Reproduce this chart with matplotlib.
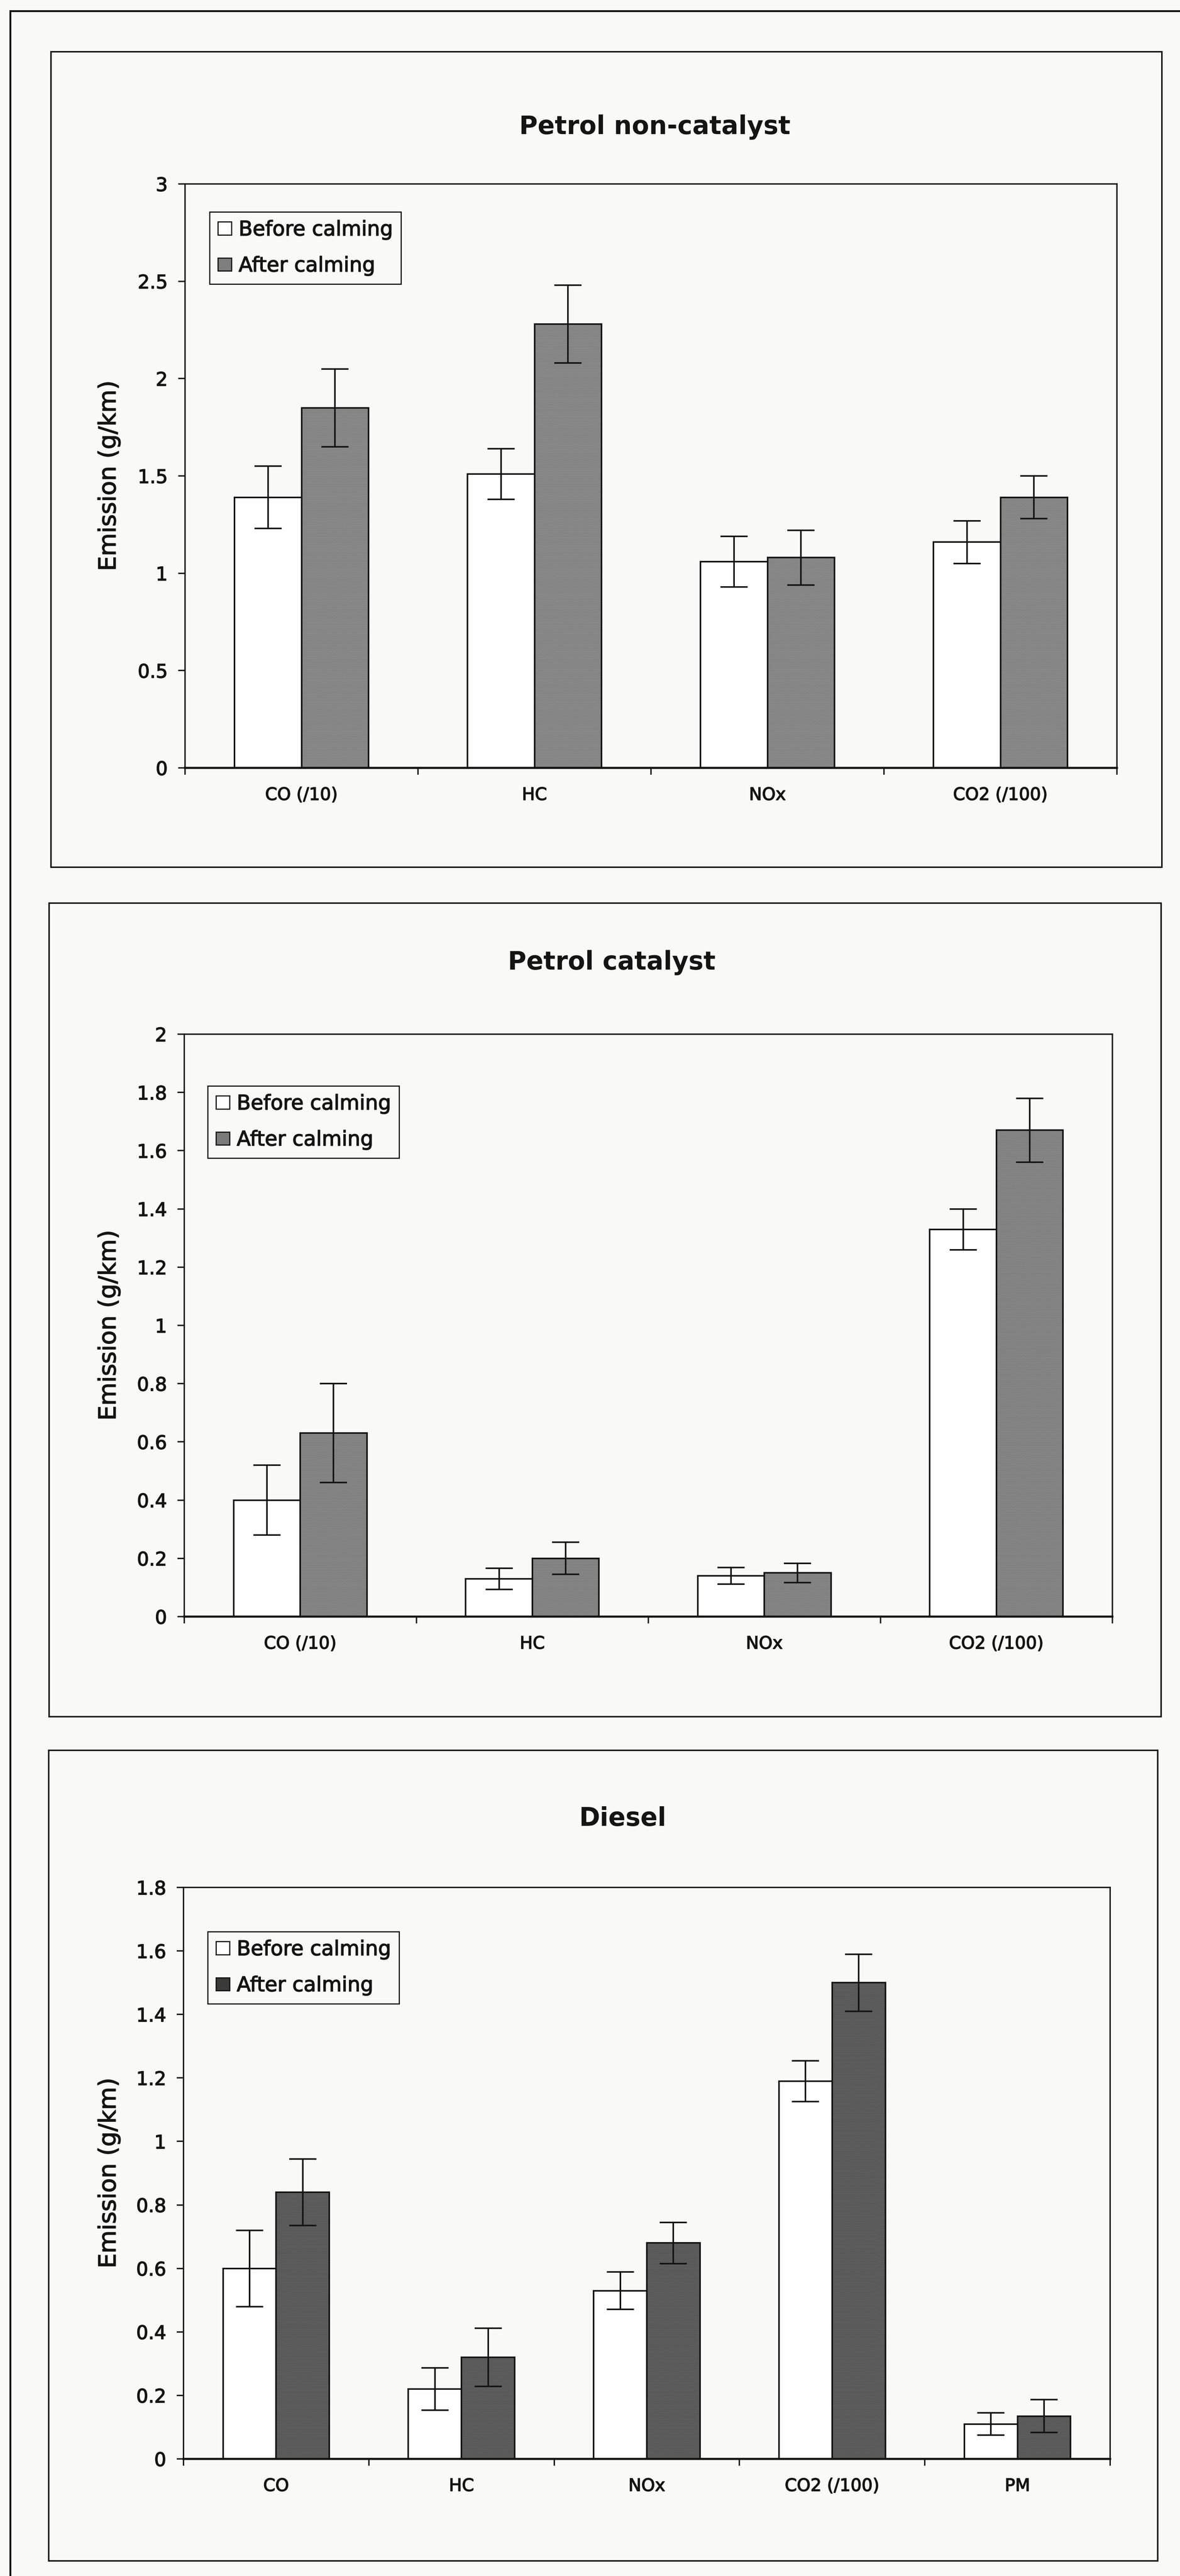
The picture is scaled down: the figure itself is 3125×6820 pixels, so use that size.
import matplotlib
matplotlib.use("Agg")
import matplotlib.pyplot as plt
import matplotlib.patheffects as pe
from matplotlib.patches import Rectangle, Patch
from matplotlib.lines import Line2D
from matplotlib.ticker import FixedLocator, FuncFormatter

# ---------------- data ----------------
# Petrol non-catalyst
pnc_categories = ["CO (/10)", "HC", "NOx", "CO2 (/100)"]
pnc_before = [1.39, 1.51, 1.06, 1.16]
pnc_before_err = [0.16, 0.13, 0.13, 0.11]
pnc_after = [1.85, 2.28, 1.08, 1.39]
pnc_after_err = [0.20, 0.20, 0.14, 0.11]
pnc_yticks = [0, 0.5, 1, 1.5, 2, 2.5, 3]

# Petrol catalyst
pc_categories = ["CO (/10)", "HC", "NOx", "CO2 (/100)"]
pc_before = [0.40, 0.13, 0.14, 1.33]
pc_before_err = [0.12, 0.036, 0.028, 0.07]
pc_after = [0.63, 0.20, 0.15, 1.67]
pc_after_err = [0.17, 0.055, 0.033, 0.11]
pc_yticks = [0, 0.2, 0.4, 0.6, 0.8, 1, 1.2, 1.4, 1.6, 1.8, 2]

# Diesel
d_categories = ["CO", "HC", "NOx", "CO2 (/100)", "PM"]
d_before = [0.60, 0.22, 0.53, 1.19, 0.11]
d_before_err = [0.12, 0.067, 0.059, 0.064, 0.035]
d_after = [0.84, 0.32, 0.68, 1.50, 0.135]
d_after_err = [0.105, 0.092, 0.065, 0.09, 0.052]
d_yticks = [0, 0.2, 0.4, 0.6, 0.8, 1, 1.2, 1.4, 1.6, 1.8]

series_labels = ["Before calming", "After calming"]

# ---------------- page setup ----------------
W, H = 3125, 6820
DPI = 100
PAPER = "#f9f9f8"
INK = "#141414"

plt.rcParams["font.family"] = ["DejaVu Sans"]
plt.rcParams["hatch.linewidth"] = 2.0

fig = plt.figure(figsize=(W / DPI, H / DPI), dpi=DPI, facecolor=PAPER)

# slightly heavier ink for printed text
INKED = [pe.withStroke(linewidth=1.3, foreground=INK)]


def fx(x):
    return x / W


def fy(y):
    return 1 - y / H


# page rules (left and top)
fig.add_artist(Line2D([fx(27), fx(27)], [fy(29), fy(H)], color=INK, lw=3.6,
                      transform=fig.transFigure))
fig.add_artist(Line2D([fx(27), fx(W)], [fy(29), fy(29)], color=INK, lw=3.6,
                      transform=fig.transFigure))


def draw_panel(box, plot, title, title_xy, legend_xy, cats, before, berr,
               after, aerr, yticks, after_color, hatch_color, handle_color):
    bx0, by0, bx1, by1 = box
    fig.add_artist(Rectangle((fx(bx0), fy(by1)), fx(bx1 - bx0), (by1 - by0) / H,
                             transform=fig.transFigure, fill=False,
                             edgecolor=INK, lw=2.8))

    px0, py0, px1, py1 = plot
    ax = fig.add_axes([fx(px0), fy(py1), fx(px1 - px0), (py1 - py0) / H])
    ax.set_facecolor(PAPER)

    n = len(cats)
    idx = list(range(n))
    bw = 0.287
    xb = [i - bw / 2 for i in idx]
    xa = [i + bw / 2 for i in idx]

    ax.bar(xb, before, width=bw, color="white", edgecolor=INK, lw=3.0, zorder=2)
    ax.bar(xa, after, width=bw, color=after_color, edgecolor=hatch_color,
           hatch="....", lw=0, zorder=2)
    ax.bar(xa, after, width=bw, fill=False, edgecolor=INK, lw=3.0, zorder=3)

    ekw = dict(fmt="none", ecolor=INK, elinewidth=3.0, capsize=26,
               capthick=3.0, zorder=4)
    ax.errorbar(xb, before, yerr=berr, **ekw)
    ax.errorbar(xa, after, yerr=aerr, **ekw)

    ax.set_xlim(-0.5, n - 0.5)
    ax.set_ylim(yticks[0], yticks[-1])
    ax.yaxis.set_major_locator(FixedLocator(yticks))
    ax.yaxis.set_major_formatter(FuncFormatter(lambda v, p: f"{v:g}"))

    ax.set_xticks([i - 0.5 for i in range(n + 1)])
    ax.set_xticklabels([])
    ax.set_xticks(idx, minor=True)
    ax.set_xticklabels(cats, minor=True)

    ax.tick_params(axis="x", which="major", direction="out", length=13,
                   width=2.6, color=INK)
    ax.tick_params(axis="x", which="minor", length=0, pad=36,
                   labelsize=33, labelcolor=INK)
    ax.tick_params(axis="y", direction="out", length=13, width=2.6,
                   color=INK, pad=20, labelsize=36, labelcolor=INK)
    for lab in ax.get_xticklabels(minor=True) + ax.get_yticklabels():
        lab.set_path_effects(INKED)

    for side in ("top", "right", "left"):
        ax.spines[side].set_linewidth(2.6)
        ax.spines[side].set_color(INK)
    ax.spines["bottom"].set_linewidth(4.0)
    ax.spines["bottom"].set_color(INK)
    ax.spines["bottom"].set_zorder(5)

    fig.text(fx(title_xy[0]), fy(title_xy[1]), title, ha="center",
             va="center", fontsize=48, fontweight="bold", color=INK)
    fig.text(fx(289), fy((py0 + py1) / 2), "Emission (g/km)", rotation=90,
             ha="center", va="center", fontsize=45, color=INK,
             path_effects=INKED)

    handles = [Patch(facecolor="white", edgecolor=INK, lw=2.2),
               Patch(facecolor=handle_color, edgecolor=INK, lw=2.2)]
    leg = ax.legend(handles, series_labels, loc="upper left",
                    bbox_to_anchor=(fx(legend_xy[0]), fy(legend_xy[1])),
                    bbox_transform=fig.transFigure, borderaxespad=0,
                    fontsize=39, handlelength=0.67, handleheight=0.6,
                    handletextpad=0.35, labelspacing=0.8, borderpad=0.4,
                    fancybox=False, frameon=True, framealpha=1)
    leg.get_frame().set_edgecolor(INK)
    leg.get_frame().set_linewidth(2.2)
    leg.get_frame().set_facecolor(PAPER)
    for t in leg.get_texts():
        t.set_color(INK)
        t.set_path_effects(INKED)
    return ax


draw_panel((135, 137, 3077, 2296), (490, 487, 2958, 2033),
           "Petrol non-catalyst", (1734, 337), (555, 561),
           pnc_categories, pnc_before, pnc_before_err, pnc_after, pnc_after_err,
           pnc_yticks, "#979797", "#737373", "#7e7e7e")

draw_panel((130, 2391, 3075, 4545), (488, 2738, 2946, 4280),
           "Petrol catalyst", (1620, 2549), (550, 2875),
           pc_categories, pc_before, pc_before_err, pc_after, pc_after_err,
           pc_yticks, "#949494", "#707070", "#7a7a7a")

draw_panel((129, 4634, 3066, 6780), (486, 4997, 2940, 6510),
           "Diesel", (1650, 4815), (550, 5114),
           d_categories, d_before, d_before_err, d_after, d_after_err,
           d_yticks, "#6a6a6a", "#4a4a4a", "#3a3a3a")

fig.savefig("out.png", dpi=DPI, facecolor=PAPER)
